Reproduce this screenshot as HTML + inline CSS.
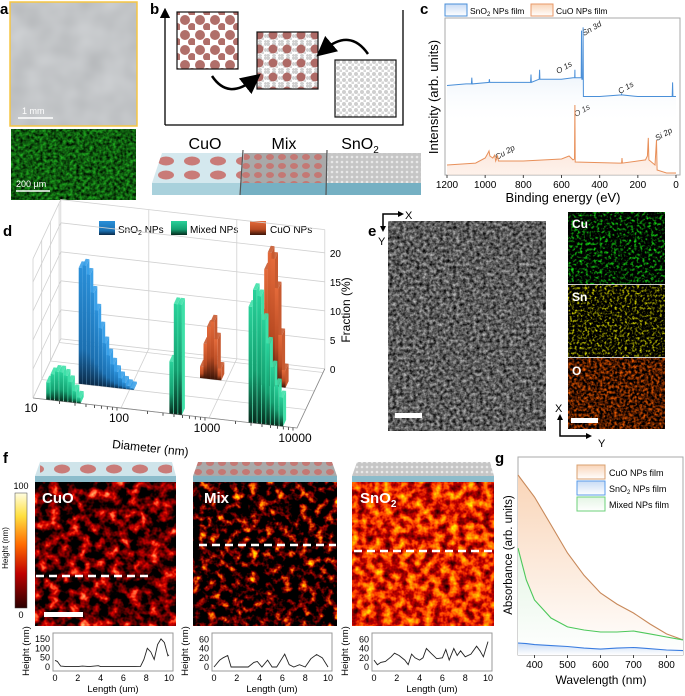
<!DOCTYPE html>
<html><head><meta charset="utf-8">
<style>
html,body{margin:0;padding:0;background:#fff;}
svg{display:block;font-family:"Liberation Sans",sans-serif;}
.lbl{font-weight:bold;font-size:15px;fill:#000;}
</style></head>
<body>
<svg id="fig" width="685" height="696" viewBox="0 0 685 696" xmlns="http://www.w3.org/2000/svg">
<defs>
  <filter id="grayTex" x="0" y="0" width="1" height="1" color-interpolation-filters="sRGB">
    <feTurbulence type="fractalNoise" baseFrequency="0.04" numOctaves="2" seed="3"/>
    <feColorMatrix type="matrix" values="0.12 0 0 0 0.70  0.12 0 0 0 0.71  0.12 0 0 0 0.72  0 0 0 0 1"/>
  </filter>
  <filter id="greenTex" x="0" y="0" width="1" height="1" color-interpolation-filters="sRGB">
    <feTurbulence type="fractalNoise" baseFrequency="0.3" numOctaves="2" seed="5"/>
    <feColorMatrix type="matrix" values="0.2 0 0 0 -0.04  1.0 0 0 0 -0.14  0.2 0 0 0 -0.04  0 0 0 0 1"/>
  </filter>
  <filter id="semTex" x="0" y="0" width="1" height="1" color-interpolation-filters="sRGB">
    <feTurbulence type="fractalNoise" baseFrequency="0.3" numOctaves="3" seed="8"/>
    <feColorMatrix type="matrix" values="1.0 0 0 0 -0.14  1.0 0 0 0 -0.14  1.0 0 0 0 -0.14  0 0 0 0 1"/>
  </filter>
  <filter id="cuTex" x="0" y="0" width="1" height="1" color-interpolation-filters="sRGB">
    <feTurbulence type="fractalNoise" baseFrequency="0.35" numOctaves="2" seed="11"/>
    <feColorMatrix type="matrix" values="0.2 0 0 0 -0.09  2.5 0 0 0 -1.2  0.2 0 0 0 -0.09  0 0 0 0 1"/>
  </filter>
  <filter id="snTex" x="0" y="0" width="1" height="1" color-interpolation-filters="sRGB">
    <feTurbulence type="fractalNoise" baseFrequency="0.4" numOctaves="2" seed="12"/>
    <feColorMatrix type="matrix" values="2.5 0 0 0 -1.2  2.5 0 0 0 -1.2  0 0 0 0 0  0 0 0 0 1"/>
  </filter>
  <filter id="oTex" x="0" y="0" width="1" height="1" color-interpolation-filters="sRGB">
    <feTurbulence type="fractalNoise" baseFrequency="0.35" numOctaves="2" seed="13"/>
    <feColorMatrix type="matrix" values="2 0 0 0 -0.7  0.8 0 0 0 -0.3  0 0 0 0 0  0 0 0 0 1"/>
  </filter>
  <filter id="afmCu" x="0" y="0" width="1" height="1" color-interpolation-filters="sRGB">
    <feTurbulence type="fractalNoise" baseFrequency="0.1" numOctaves="3" seed="21"/>
    <feColorMatrix type="matrix" values="3 0 0 0 -1.15  3 0 0 0 -1.95  2 0 0 0 -1.35  0 0 0 0 1"/>
  </filter>
  <filter id="afmMix" x="0" y="0" width="1" height="1" color-interpolation-filters="sRGB">
    <feTurbulence type="fractalNoise" baseFrequency="0.12" numOctaves="3" seed="31"/>
    <feColorMatrix type="matrix" values="3.5 0 0 0 -1.6  3.5 0 0 0 -2.2  0 0 0 0 0  0 0 0 0 1"/>
  </filter>
  <filter id="afmSn" x="0" y="0" width="1" height="1" color-interpolation-filters="sRGB">
    <feTurbulence type="fractalNoise" baseFrequency="0.12" numOctaves="3" seed="41"/>
    <feColorMatrix type="matrix" values="2 0 0 0 -0.1  2 0 0 0 -0.85  0 0 0 0 0  0 0 0 0 1"/>
  </filter>
  <linearGradient id="cbar" x1="0" y1="0" x2="0" y2="1">
    <stop offset="0" stop-color="#fffde0"/><stop offset="0.2" stop-color="#ffe040"/>
    <stop offset="0.45" stop-color="#ff6a00"/><stop offset="0.7" stop-color="#c00000"/><stop offset="1" stop-color="#2a0000"/>
  </linearGradient>
  <linearGradient id="blueFill" x1="0" y1="0" x2="0" y2="1">
    <stop offset="0" stop-color="#b9d3ee" stop-opacity="0.9"/><stop offset="1" stop-color="#fff" stop-opacity="0"/>
  </linearGradient>
  <linearGradient id="orFill" x1="0" y1="0" x2="0" y2="1">
    <stop offset="0" stop-color="#f6c9b0" stop-opacity="0.9"/><stop offset="1" stop-color="#fde9de" stop-opacity="0.6"/>
  </linearGradient>
  <linearGradient id="gCu" x1="0" y1="0" x2="0" y2="1">
    <stop offset="0" stop-color="#f9d5b8"/><stop offset="1" stop-color="#fff"/>
  </linearGradient>
  <linearGradient id="gSn" x1="0" y1="0" x2="0" y2="1">
    <stop offset="0" stop-color="#c9dcf5"/><stop offset="1" stop-color="#fff"/>
  </linearGradient>
  <linearGradient id="gMix" x1="0" y1="0" x2="0" y2="1">
    <stop offset="0" stop-color="#e4f5e4"/><stop offset="1" stop-color="#fff"/>
  </linearGradient>
  <linearGradient id="barBlue" x1="0" y1="0" x2="0" y2="1">
    <stop offset="0" stop-color="#2a8fd8"/><stop offset="0.7" stop-color="#1b6fb0"/><stop offset="1" stop-color="#0b2a48"/>
  </linearGradient>
  <linearGradient id="barGreen" x1="0" y1="0" x2="0" y2="1">
    <stop offset="0" stop-color="#29d19a"/><stop offset="0.6" stop-color="#14a070"/><stop offset="1" stop-color="#062a1c"/>
  </linearGradient>
  <linearGradient id="barOr" x1="0" y1="0" x2="0" y2="1">
    <stop offset="0" stop-color="#e46a3a"/><stop offset="0.6" stop-color="#b84a22"/><stop offset="1" stop-color="#3a1408"/>
  </linearGradient>
  <pattern id="brownDots" width="15" height="15" patternUnits="userSpaceOnUse">
    <circle cx="5" cy="5" r="5" fill="#b06f6a"/><circle cx="12" cy="12" r="4" fill="#b06f6a"/>
  </pattern>
  <pattern id="grayDots" width="6" height="6" patternUnits="userSpaceOnUse">
    <rect width="6" height="6" fill="#fff"/><circle cx="2" cy="2" r="2" fill="#cfcfcf"/><circle cx="5" cy="5" r="1.6" fill="#d8d8d8"/>
  </pattern>
  <pattern id="mixDots" width="14" height="14" patternUnits="userSpaceOnUse">
    <rect width="14" height="14" fill="url(#grayDots)"/><circle cx="7" cy="7" r="4.5" fill="#ae6a66"/>
  </pattern>
  <pattern id="cuoSlab" width="26" height="14" patternUnits="userSpaceOnUse">
    <ellipse cx="10" cy="7" rx="8" ry="4.5" fill="#c97b78"/>
  </pattern>
  <pattern id="mixSlab" width="12" height="9" patternUnits="userSpaceOnUse">
    <rect width="12" height="9" fill="#a9a9a9"/><ellipse cx="6" cy="4" rx="4" ry="3" fill="#c47874"/>
  </pattern>
  <pattern id="snSlab" width="5" height="5" patternUnits="userSpaceOnUse">
    <rect width="5" height="5" fill="#c6c6c6"/><circle cx="2" cy="2" r="1.3" fill="#e8e8e8"/>
  </pattern>
  <marker id="arrHead" markerWidth="8" markerHeight="8" refX="4" refY="4" orient="auto">
    <path d="M0,0 L8,4 L0,8 z" fill="#000"/>
  </marker>
</defs>

<!-- ===== Panel a ===== -->
<g>
  <text class="lbl" x="0" y="14">a</text>
  <rect x="10" y="2" width="127" height="124" filter="url(#grayTex)"/>
  <rect x="10" y="2" width="127" height="124" fill="none" stroke="#f5c542" stroke-width="1.5"/>
  <line x1="18" y1="118" x2="53" y2="118" stroke="#fff" stroke-width="1.5"/>
  <text x="22" y="114" font-size="9" fill="#fff">1 mm</text>
  <rect x="11" y="129" width="125" height="71" filter="url(#greenTex)"/>
  <line x1="16" y1="191" x2="50" y2="191" stroke="#fff" stroke-width="1.5"/>
  <text x="16" y="187" font-size="9" fill="#fff">200 µm</text>
</g>

<!-- ===== Panel b ===== -->
<g>
  <text class="lbl" x="150" y="14">b</text>
  <line x1="165" y1="125" x2="165" y2="13" stroke="#000" stroke-width="1.3" marker-end="url(#arrHead)"/>
  <polyline points="165,125 403,125 403,10" fill="none" stroke="#000" stroke-width="1.3"/>
  <rect x="177" y="12" width="61" height="57" fill="url(#brownDots)" stroke="#111" stroke-width="1.2"/>
  <rect x="257" y="32" width="61" height="57" fill="url(#mixDots)" stroke="#111" stroke-width="1.2"/>
  <rect x="335" y="60" width="61" height="57" fill="url(#grayDots)" stroke="#111" stroke-width="1.2"/>
  <path d="M212,76 Q228,100 253,80" fill="none" stroke="#000" stroke-width="2.5" marker-end="url(#arrHead)"/>
  <path d="M368,54 Q350,28 324,50" fill="none" stroke="#000" stroke-width="2.5" marker-end="url(#arrHead)"/>
  <text x="205" y="149" font-size="16" text-anchor="middle">CuO</text>
  <text x="284" y="149" font-size="16" text-anchor="middle">Mix</text>
  <text x="360" y="149" font-size="16" text-anchor="middle">SnO<tspan font-size="10" dy="4">2</tspan></text>
  <polygon points="162,153 421,153 421,183 152,183" fill="#d4e8ee"/>
  <polygon points="162,153 243,153 240,183 152,183" fill="url(#cuoSlab)"/>
  <polygon points="244,153 327,153 326,183 241,183" fill="url(#mixSlab)"/>
  <polygon points="328,153 421,153 421,183 327,183" fill="url(#snSlab)"/>
  <rect x="152" y="183" width="269" height="12" fill="#a9d1dc"/>
  <rect x="240" y="183" width="181" height="12" fill="#5fa2b8" opacity="0.7"/>
  <line x1="243" y1="150" x2="240" y2="195" stroke="#555" stroke-width="1.2"/>
  <line x1="327" y1="150" x2="326" y2="195" stroke="#555" stroke-width="1.2"/>
</g>

<!-- ===== Panel c ===== -->
<g id="panelC">
  <text class="lbl" x="420" y="14">c</text>
  <rect x="445" y="4" width="22" height="12" fill="url(#gSn)" stroke="#4a8fd8" stroke-width="1"/>
  <text x="470" y="14" font-size="8.5">SnO<tspan font-size="6" dy="2">2</tspan><tspan dy="-2"> NPs film</tspan></text>
  <rect x="531" y="4" width="22" height="12" fill="url(#gCu)" stroke="#e89a6a" stroke-width="1"/>
  <text x="556" y="14" font-size="8.5">CuO NPs film</text>
  <rect x="445" y="18" width="235" height="157" fill="none" stroke="#aaa" stroke-width="1"/>
  <text transform="translate(438,97) rotate(-90)" font-size="13" text-anchor="middle">Intensity (arb. units)</text>
  <text x="563" y="202" font-size="13" text-anchor="middle">Binding energy (eV)</text>
  <g font-size="8" font-style="italic" fill="#222">
    <text transform="translate(584,36) rotate(-30)">Sn 3d</text>
    <text transform="translate(558,74) rotate(-30)">O 1s</text>
    <text transform="translate(620,94) rotate(-30)">C 1s</text>
    <text transform="translate(576,117) rotate(-30)">O 1s</text>
    <text transform="translate(497,160) rotate(-30)">Cu 2p</text>
    <text transform="translate(657,141) rotate(-30)">Si 2p</text>
  </g>
</g>

<!-- ===== Panel d ===== -->
<g id="panelD">
  <text class="lbl" x="3" y="236">d</text>
  <rect x="99" y="221" width="16" height="14" fill="url(#barBlue)"/>
  <text x="118" y="233" font-size="10">SnO<tspan font-size="7" dy="2">2</tspan><tspan dy="-2"> NPs</tspan></text>
  <rect x="171" y="221" width="16" height="14" fill="url(#barGreen)"/>
  <text x="190" y="233" font-size="10">Mixed NPs</text>
  <rect x="250" y="221" width="16" height="14" fill="url(#barOr)"/>
  <text x="270" y="233" font-size="10">CuO NPs</text>
  <text transform="translate(350,310) rotate(-90)" font-size="12" text-anchor="middle">Fraction (%)</text>
  <text transform="translate(150,452) rotate(6)" font-size="12" text-anchor="middle">Diameter (nm)</text>
</g>

<!-- ===== Panel e ===== -->
<g>
  <text class="lbl" x="368" y="236">e</text>
  <polyline points="400,214 383,214 383,228" fill="none" stroke="#000" stroke-width="1.5"/>
  <path d="M398,211 L404,214 L398,217 z M380,226 L383,232 L386,226 z" fill="#000"/>
  <text x="405" y="219" font-size="11">X</text>
  <text x="378" y="245" font-size="11">Y</text>
  <rect x="388" y="221" width="158" height="210" filter="url(#semTex)"/>
  <rect x="395" y="413" width="27" height="5" fill="#fff"/>
  <rect x="568" y="212" width="97" height="72" filter="url(#cuTex)"/>
  <rect x="568" y="285" width="97" height="72" filter="url(#snTex)"/>
  <rect x="568" y="358" width="97" height="71" filter="url(#oTex)"/>
  <line x1="568" y1="284.5" x2="665" y2="284.5" stroke="#ccc"/>
  <line x1="568" y1="357.5" x2="665" y2="357.5" stroke="#ccc"/>
  <text x="572" y="228" font-size="12" font-weight="bold" fill="#fff">Cu</text>
  <text x="572" y="301" font-size="12" font-weight="bold" fill="#fff">Sn</text>
  <text x="572" y="375" font-size="12" font-weight="bold" fill="#fff">O</text>
  <rect x="571" y="418" width="27" height="5" fill="#fff"/>
  <polyline points="560,418 560,436 588,436" fill="none" stroke="#000" stroke-width="1.5"/>
  <path d="M557,420 L560,414 L563,420 z M586,433 L592,436 L586,439 z" fill="#000"/>
  <text x="555" y="412" font-size="11">X</text>
  <text x="598" y="447" font-size="11">Y</text>
</g>

<!-- ===== Panel f ===== -->
<g id="panelF">
  <text class="lbl" x="3" y="463">f</text>
  <rect x="15" y="493" width="12" height="115" fill="url(#cbar)" stroke="#444" stroke-width="0.5"/>
  <text x="21" y="489" font-size="9" text-anchor="middle">100</text>
  <text x="21" y="618" font-size="9" text-anchor="middle">0</text>
  <text transform="translate(8,548) rotate(-90)" font-size="8" text-anchor="middle">Height (nm)</text>

  <polygon points="40,462 172,462 176,476 35,476" fill="#cfe4ea"/>
  <rect x="40" y="462" width="132" height="14" fill="url(#cuoSlab)"/>
  <rect x="35" y="476" width="141" height="6" fill="#8cbccb"/>
  <polygon points="198,462 332,462 337,476 193,476" fill="url(#mixSlab)"/>
  <rect x="193" y="476" width="144" height="6" fill="#7fb0c0"/>
  <polygon points="357,462 490,462 494,476 352,476" fill="url(#snSlab)"/>
  <rect x="352" y="476" width="142" height="6" fill="#8cbccb"/>

  <rect x="35" y="482" width="141" height="144" filter="url(#afmCu)"/>
  <rect x="193" y="482" width="144" height="144" filter="url(#afmMix)"/>
  <rect x="352" y="482" width="142" height="144" filter="url(#afmSn)"/>
  <text x="42" y="503" font-size="15" font-weight="bold" fill="#fff">CuO</text>
  <text x="204" y="503" font-size="15" font-weight="bold" fill="#fff">Mix</text>
  <text x="360" y="503" font-size="15" font-weight="bold" fill="#fff">SnO<tspan font-size="10" dy="4">2</tspan></text>
  <line x1="36" y1="576" x2="150" y2="576" stroke="#fff" stroke-width="2.5" stroke-dasharray="8,5"/>
  <line x1="199" y1="545" x2="336" y2="545" stroke="#fff" stroke-width="2.5" stroke-dasharray="8,5"/>
  <line x1="354" y1="551" x2="493" y2="551" stroke="#fff" stroke-width="2.5" stroke-dasharray="8,5"/>
  <rect x="44" y="612" width="39" height="5" fill="#fff"/>
</g>

<!-- ===== Panel g ===== -->
<g id="panelG">
  <text class="lbl" x="495" y="463">g</text>
  <text transform="translate(512,555) rotate(-90)" font-size="11.5" text-anchor="middle">Absorbance (arb. units)</text>
  <text x="601" y="684" font-size="12" text-anchor="middle">Wavelength (nm)</text>
</g>

<script>
// ---------- Panel c data (XPS) ----------
const blueE = [1200,1100,1072,1070,1068,980,978,976,900,762,760,758,717,715,713,600,540,531,530,529,497,495,493,488,487,485,400,286,285,284,200,20,18,16,0];
const blueI = [57,58,58,62,58,59,61,59,59,59,64,59,61,67,61,61,62,62,67,62,62,92,61,61,94,50,50,51,52,51,50,50,59,50,50];
const orE = [1200,1050,1000,985,980,975,960,950,945,935,930,800,600,560,540,532,530,528,300,285,283,281,160,150,145,142,110,102,99,50,0];
const orI = [6.4,7.6,10.8,14,15.3,12.1,10.8,12.7,8.9,12.1,8.9,8.9,10.2,12.1,9.6,10.2,44.6,8.3,7.6,7.6,10.8,7.6,9.6,12.1,23.6,9.6,6.4,22.3,3.2,1.3,1.3];
const xpsTicks = [1200,1000,800,600,400,200,0];

// ---------- Panel d data (size distribution) ----------
const blueLogD = [1.42,1.465,1.51,1.555,1.6,1.645,1.69,1.735,1.78,1.825,1.87,1.915,1.96,2.005];
const blueFrac = [20,20.5,19,16,13,10,7.5,5.5,4,2.8,1.8,1.1,0.6,0.3];
const greenLogD = [1.15,1.2,1.25,1.3,1.35,1.4,1.45,1.5, 2.55,2.6,2.65, 3.45,3.5,3.55,3.6,3.65,3.7,3.75,3.8];
const greenFrac = [3,4.5,5,5,4.5,3.5,2,1, 9,19,19, 20,23,22,18,14,10,7,5];
const orangeLogD = [2.7,2.74,2.78,2.82,2.86,2.9, 3.35,3.39,3.43,3.47,3.51,3.55,3.59,3.63];
const orangeFrac = [2,6,9,10,7,2, 4,12,20,23,22,17,9,3];
const dTicks = [0,5,10,15,20];
const dDiamLabels = ["10","100","1000","10000"];

// ---------- Panel f data (height profiles) ----------
const cuoX = [0,0.2,0.5,1,2,2.4,3,3.8,4,5,6,7,7.5,7.8,8.1,8.4,8.7,9,9.3,9.6,9.9,10];
const cuoH = [35,30,5,2,2,5,2,7,2,2,2,2,3,40,100,80,40,120,150,130,60,65];
const mixX = [0,0.5,0.8,1.2,1.5,2,3,3.5,3.8,4.2,4.7,5.1,5.5,6,6.2,6.6,7,7.5,8,8.5,9,9.5,10];
const mixH = [0,15,20,25,0,0,0,10,12,0,15,0,0,20,28,5,0,5,0,18,27,20,0];
const snX = [0,0.3,0.6,1,1.5,1.8,2.2,2.7,3,3.3,3.6,4,4.3,4.6,5,5.5,6,6.3,6.6,7,7.3,7.6,8,8.5,9,9.3,9.6,10];
const snH = [15,5,10,12,22,30,25,15,5,28,20,15,20,40,30,18,20,38,15,40,25,35,22,28,45,35,22,55];
const profXTicks = [0,2,4,6,8,10];
const cuoYTicks = [0,50,100,150];
const smallYTicks = [0,20,40,60];

// ---------- Panel g data (absorbance) ----------
const wl = [350,375,400,450,500,550,600,650,700,750,800,850];
const absCuO = [90.7,85,79.4,65,50.5,39,29.9,24.2,19.6,13.9,8.8,5.7];
const absMix = [53,36.6,26.3,17,12.4,10.8,9.8,9.8,10.3,8.8,7.2,5.7];
const absSn = [4.1,3.8,3.3,2.8,2.3,1.5,1.0,1.5,1.8,1.2,0.5,0.2];
const gTicks = [400,500,600,700,800];
const gLegend = ["CuO NPs film","SnO2 NPs film","Mixed NPs film"];

const NS = "http://www.w3.org/2000/svg";
function mk(tag, attrs, parent){ const e=document.createElementNS(NS,tag); for(const k in attrs) e.setAttribute(k,attrs[k]); parent.appendChild(e); return e; }

// ===== Panel C =====
(function(){
  const g = document.getElementById('panelC');
  const xE = e => 676 - (e/1200)*229;
  const yI = v => 175 - v*1.57;
  function series(E, I, fillId, stroke, name, baseY){
    let d = E.map((e,i)=>(i?'L':'M')+xE(e).toFixed(1)+','+yI(I[i]).toFixed(1)).join(' ');
    const area = mk('path',{d:d+` L${xE(E[E.length-1])},${baseY} L${xE(E[0])},${baseY} Z`, fill:`url(#${fillId})`, stroke:'none'}, g);
    
    
    const ln = mk('path',{d:d, fill:'none', stroke:stroke, 'stroke-width':1}, g);
    
    
  }
  series(blueE, blueI, 'blueFill', '#4a8fd8', 'xps-sno2', 125);
  series(orE, orI, 'orFill', '#e8905a', 'xps-cuo', 175);
  xpsTicks.forEach(t=>{
    const tk = mk('line',{x1:xE(t),y1:175,x2:xE(t),y2:178,stroke:'#444'}, g);
    
    
    const tx = mk('text',{x:xE(t),y:188,'font-size':10,'text-anchor':'middle'}, g);
    tx.textContent = t;
    
    
  });
})();

// ===== Panel D =====
(function(){
  const g = document.getElementById('panelD');
  const P = (L, z, f) => [33 + (L-1)*88 + z*8.7, 398 + (L-1)*10 - z*18.5 - f*5.8];
  const pts = a => a.map(p=>p[0].toFixed(1)+','+p[1].toFixed(1)).join(' ');
  const grid = mk('g',{stroke:'#d0d0d0','stroke-width':0.8,fill:'none'}, g);
  
  
  const zMax = 3.2, fMax = 24;
  [1,2,3,4].forEach(L=>{
    mk('polyline',{points:pts([P(L,0,0),P(L,zMax,0),P(L,zMax,fMax)])}, grid);
  });
  dTicks.concat([fMax]).forEach(f=>{
    mk('polyline',{points:pts([P(1,0,f),P(1,zMax,f),P(4,zMax,f)])}, grid);
  });
  [0,1,2,3].forEach(z=>{
    mk('polyline',{points:pts([P(1,z,0),P(4,z,0)])}, grid);
    mk('polyline',{points:pts([P(1,z,0),P(1,z,fMax)])}, grid);
  });
  mk('polyline',{points:pts([P(1,0,0),P(4,0,0),P(4,zMax,0)]),stroke:'#888'}, grid);
  for(let dec=1; dec<4; dec++){ for(let m=2;m<10;m++){ const L=dec+Math.log10(m); const a=P(L,0,0); mk('line',{x1:a[0],y1:a[1],x2:a[0],y2:a[1]+3,stroke:'#555'}, g); } }
  dDiamLabels.forEach((s,i)=>{
    const a = P(1+i,0,0);
    const t = mk('text',{x:a[0]-2,y:a[1]+14,'font-size':12,'text-anchor':'middle'}, g);
    t.textContent = s;
    
    
  });
  dTicks.forEach(f=>{
    const a = P(4,zMax,f);
    const t = mk('text',{x:a[0]+5,y:a[1]+4,'font-size':10}, g);
    t.textContent = f;
    
    
  });
  function bars(Ls, Fs, z, fill, side, name){
    const w = 0.042, dz = 0.35;
    Ls.forEach((L,i)=>{
      const f = Fs[i];
      const a=P(L,z,0), b=P(L+w,z,0), c=P(L+w,z,f), d=P(L,z,f);
      const c2=P(L+w,z+dz,f), d2=P(L,z+dz,f), b2=P(L+w,z+dz,0);
      const s = mk('polygon',{points:pts([b,b2,c2,c]),fill:side}, g);
      
      
      const fr = mk('polygon',{points:pts([a,b,c,d]),fill:`url(#${fill})`}, g);
      
      
      const tp = mk('polygon',{points:pts([d,c,c2,d2]),fill:side,opacity:0.9}, g);
      
      
    });
  }
  bars(orangeLogD, orangeFrac, 2, 'barOr', '#c85a30', 'bar-cuo');
  bars(blueLogD, blueFrac, 1, 'barBlue', '#3aa0e8', 'bar-sno2');
  bars(greenLogD, greenFrac, 0, 'barGreen', '#3ee0a8', 'bar-mixed');
})();

// ===== Panel F profiles =====
(function(){
  const g = document.getElementById('panelF');
  function prof(x0, X, H, yTicks, yMax, name){
    const w=120, top=633, bot=671;
    const sx = v => x0 + 2 + v/10*(w-6);
    const sy = v => bot - 4 - v/yMax*(bot-top-8);
    const fr = mk('rect',{x:x0,y:top,width:w,height:bot-top,fill:'none',stroke:'#999'}, g);
    
    
    const d = X.map((v,i)=>(i?'L':'M')+sx(v).toFixed(1)+','+sy(H[i]).toFixed(1)).join(' ');
    const p = mk('path',{d:d,fill:'none',stroke:'#222','stroke-width':0.9}, g);
    
    
    profXTicks.forEach(t=>{
      const tx = mk('text',{x:sx(t),y:681,'font-size':9,'text-anchor':'middle'}, g);
      tx.textContent = t;
      
      
    });
    yTicks.forEach(t=>{
      const tx = mk('text',{x:x0-3,y:sy(t)+3,'font-size':9,'text-anchor':'end'}, g);
      tx.textContent = t;
      
      
    });
    const xl = mk('text',{x:x0+w/2,y:692,'font-size':9.5,'text-anchor':'middle'}, g);
    xl.textContent = 'Length (um)';
    
    
    const yl = mk('text',{transform:`translate(${x0-24},651) rotate(-90)`,'font-size':9.5,'text-anchor':'middle'}, g);
    yl.textContent = 'Height (nm)';
    
    
  }
  prof(53, cuoX, cuoH, cuoYTicks, 160, 'profile-cuo');
  prof(212, mixX, mixH, smallYTicks, 65, 'profile-mix');
  prof(372, snX, snH, smallYTicks, 65, 'profile-sno2');
})();

// ===== Panel G =====
(function(){
  const g = document.getElementById('panelG');
  const L=518, R=683, T=457, B=655;
  const sx = w => L + (w-350)/500*(R-L);
  const sy = v => 651 - v*1.94;
  const fr = mk('rect',{x:L,y:T,width:R-L,height:B-T,fill:'none',stroke:'#aaa'}, g);
  
  
  function curve(Y, fill, stroke, name){
    const d = wl.map((w,i)=>(i?'L':'M')+sx(w).toFixed(1)+','+sy(Y[i]).toFixed(1)).join(' ');
    const a = mk('path',{d:d+` L${sx(850)},${B} L${sx(350)},${B} Z`,fill:`url(#${fill})`}, g);
    
    
    const l = mk('path',{d:d,fill:'none',stroke:stroke,'stroke-width':1.1}, g);
    
    
  }
  curve(absCuO,'gCu','#c8895a','abs-cuo');
  curve(absMix,'gMix','#4cc85a','abs-mixed');
  curve(absSn,'gSn','#3a7de0','abs-sno2');
  gTicks.forEach(t=>{
    const tk = mk('line',{x1:sx(t),y1:B,x2:sx(t),y2:B+3,stroke:'#444'}, g);
    
    
    const tx = mk('text',{x:sx(t),y:B+13,'font-size':10,'text-anchor':'middle'}, g);
    tx.textContent = t;
    
    
  });
  const sw = [['gCu','#d9a070'],['gSn','#5a9be8'],['gMix','#6cd07a']];
  gLegend.forEach((s,i)=>{
    const y = 465 + i*16;
    const r = mk('rect',{x:577,y:y,width:28,height:14,fill:`url(#${sw[i][0]})`,stroke:sw[i][1]}, g);
    
    
    const t = mk('text',{x:609,y:y+11,'font-size':9}, g);
    if(s.indexOf('SnO2')===0){
      const a = mk('tspan',{}, t); a.textContent = 'SnO';
      const b = mk('tspan',{'font-size':6,dy:2}, t); b.textContent = '2';
      const c = mk('tspan',{dy:-2}, t); c.textContent = ' NPs film';
    } else t.textContent = s;
    
    
  });
})();
</script>
</svg>
</body></html>
